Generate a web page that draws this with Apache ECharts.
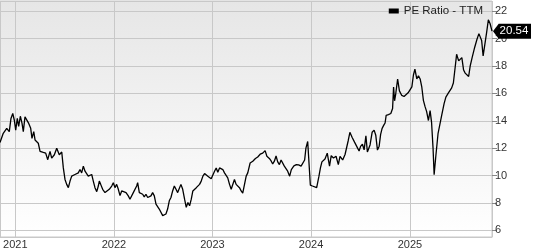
<!DOCTYPE html>
<html><head><meta charset="utf-8">
<script src="https://cdn.jsdelivr.net/npm/echarts@6/dist/echarts.min.js"></script>
<style>html,body{margin:0;padding:0;background:#fff}#c{width:533px;height:250px}</style>
</head><body><div id="c"></div>
<script>
// Positions in decimal years
const yearPos = [
2020.845,2020.878,2020.913,2020.939,2020.956,2020.974,2020.990,2021.004,2021.020,2021.034,
2021.051,2021.068,2021.081,2021.098,2021.116,2021.136,2021.156,2021.169,2021.187,2021.200,
2021.217,2021.233,2021.251,2021.284,2021.308,2021.329,2021.352,2021.369,2021.396,2021.420,
2021.446,2021.471,2021.487,2021.504,2021.521,2021.538,2021.555,2021.572,2021.588,2021.605,
2021.623,2021.639,2021.656,2021.673,2021.690,2021.707,2021.724,2021.740,2021.758,2021.775,
2021.791,2021.808,2021.826,2021.842,2021.852,2021.866,2021.886,2021.910,2021.927,2021.953,
2021.978,2021.994,2022.011,2022.028,2022.045,2022.062,2022.079,2022.095,2022.123,2022.146,
2022.163,2022.181,2022.197,2022.214,2022.231,2022.241,2022.258,2022.275,2022.292,2022.308,
2022.325,2022.343,2022.359,2022.376,2022.393,2022.410,2022.427,2022.444,2022.460,2022.478,
2022.495,2022.511,2022.528,2022.545,2022.562,2022.579,2022.596,2022.613,2022.630,2022.647,
2022.663,2022.680,2022.698,2022.717,2022.734,2022.751,2022.768,2022.785,2022.801,2022.819,
2022.836,2022.852,2022.869,2022.886,2022.903,2022.920,2022.937,2022.953,2022.970,2022.987,
2023.004,2023.021,2023.038,2023.054,2023.072,2023.089,2023.105,2023.122,2023.139,2023.155,
2023.173,2023.190,2023.206,2023.223,2023.240,2023.257,2023.274,2023.291,2023.307,2023.325,
2023.342,2023.358,2023.382,2023.409,2023.436,2023.459,2023.484,2023.510,2023.534,2023.552,
2023.577,2023.595,2023.611,2023.628,2023.645,2023.662,2023.679,2023.696,2023.714,2023.729,
2023.747,2023.763,2023.783,2023.800,2023.826,2023.851,2023.874,2023.899,2023.917,2023.935,
2023.948,2023.966,2023.978,2023.993,2024.014,2024.034,2024.057,2024.080,2024.095,2024.110,
2024.126,2024.141,2024.164,2024.174,2024.187,2024.204,2024.227,2024.253,2024.276,2024.293,
2024.320,2024.344,2024.361,2024.377,2024.393,2024.415,2024.440,2024.466,2024.486,2024.501,
2024.520,2024.537,2024.555,2024.570,2024.582,2024.597,2024.618,2024.638,2024.655,2024.672,
2024.689,2024.704,2024.719,2024.736,2024.749,2024.760,2024.783,2024.807,2024.825,2024.835,
2024.845,2024.857,2024.876,2024.894,2024.918,2024.941,2024.961,2024.982,2025.002,2025.020,
2025.036,2025.051,2025.070,2025.087,2025.104,2025.121,2025.137,2025.154,2025.170,2025.188,
2025.205,2025.220,2025.235,2025.246,2025.263,2025.286,2025.322,2025.347,2025.365,2025.378,
2025.391,2025.424,2025.441,2025.464,2025.474,2025.495,2025.515,2025.527,2025.545,2025.561,
2025.578,2025.596,2025.612,2025.632,2025.657,2025.680,2025.700,2025.713,2025.728,2025.743,
2025.761,2025.779,2025.796,2025.814,2025.833
];
// PE Ratio - TTM values
const peValues = [
12.41,13.09,13.45,13.21,14.17,14.53,14.04,13.32,14.17,13.59,
14.33,13.81,13.21,14.29,14.33,13.81,13.45,12.72,13.21,12.60,
12.72,12.36,11.77,11.69,11.64,11.16,11.77,11.28,11.52,12.00,
11.52,11.72,10.56,9.72,9.36,9.12,9.60,9.96,9.84,10.08,
9.96,10.20,10.44,10.20,10.69,10.32,10.44,9.96,9.84,10.08,
9.60,9.12,8.83,9.24,9.60,9.36,9.00,8.76,8.88,9.00,
9.24,9.48,9.12,9.36,9.00,8.54,8.88,8.93,8.76,8.52,
8.28,8.16,8.76,8.88,9.24,9.48,8.76,8.64,8.64,8.45,
8.64,8.40,8.28,8.52,8.76,8.52,7.92,7.92,7.56,7.68,
7.08,7.08,7.20,7.56,8.16,8.40,8.88,9.24,9.00,8.76,
8.64,9.36,9.00,8.28,7.68,8.04,7.80,8.28,8.88,8.76,
9.12,9.24,9.36,9.60,9.96,10.15,10.08,9.96,9.84,9.77,
9.72,10.32,10.56,10.25,10.56,10.63,10.44,10.20,10.08,9.84,
9.36,9.00,9.12,9.72,9.36,9.24,9.12,8.88,8.72,8.76,
9.96,10.20,10.92,11.05,11.25,11.36,11.56,11.64,11.82,11.41,
11.25,11.07,10.85,11.05,11.43,11.00,10.80,11.14,11.00,10.69,
10.56,10.32,9.96,10.44,10.71,10.80,10.78,10.69,10.56,11.14,
12.00,12.49,12.36,9.30,9.24,9.17,9.12,9.96,10.56,11.00,
11.14,11.21,11.64,11.77,10.69,11.46,11.28,11.41,10.80,11.41,
11.14,11.54,11.68,12.58,13.16,12.80,12.44,12.08,11.79,12.13,
12.29,11.88,12.90,11.72,11.68,12.24,13.16,13.32,12.94,11.86,
12.15,13.01,13.45,13.68,13.84,14.40,14.45,14.53,14.89,16.47,
15.46,15.97,17.05,16.18,15.85,15.77,15.90,16.04,16.11,16.47,
17.34,17.77,17.05,17.29,17.05,16.45,15.49,15.03,14.67,14.02,
14.74,13.88,12.00,10.06,11.41,13.09,14.38,15.25,15.73,15.72,
16.04,16.40,16.76,18.20,18.85,18.37,18.42,18.61,17.70,17.48,
17.53,17.23,18.01,18.63,19.35,19.93,20.36,20.29,19.86,18.74,
18.81,20.47,21.37,21.08,20.54
];
const seriesName = 'PE Ratio - TTM';
const yMin = 5.52, yMax = 22.74;

function toTs(dy) {
  const yr = Math.floor(dy);
  const a = Date.UTC(yr, 0, 1), b = Date.UTC(yr + 1, 0, 1);
  return a + (dy - yr) * (b - a);
}
const n = Math.min(yearPos.length, peValues.length);
const data = [];
for (let i = 0; i < n; i++) data.push([toTs(yearPos[i]), peValues[i]]);
const last = data[data.length - 1];

const FONT = 'Arial, "Liberation Sans", sans-serif';
const chart = echarts.init(document.getElementById('c'), null, {renderer: 'canvas'});
chart.setOption({
  animation: false,
  textStyle: {fontFamily: FONT},
  grid: {
    left: 0, right: 41, top: 1, bottom: 10, show: true,
    borderColor: '#c8c8c8', borderWidth: 1,
    backgroundColor: new echarts.graphic.LinearGradient(0, 0, 0, 1, [
      {offset: 0, color: '#e6e6e6'}, {offset: 1, color: '#ffffff'}
    ])
  },
  legend: {
    data: [seriesName], right: 50, top: 5, padding: 0, icon: 'rect',
    itemWidth: 10, itemHeight: 5,
    textStyle: {fontSize: 11.5, color: '#222', fontFamily: FONT}
  },
  xAxis: {
    type: 'time', min: data[0][0], max: last[0],
    splitNumber: 5,
    minInterval: 365 * 86400000,
    axisLine: {show: true, lineStyle: {color: '#c8c8c8'}},
    axisTick: {show: false},
    splitLine: {show: true, lineStyle: {color: '#c8c8c8', width: 1}},
    axisLabel: {fontSize: 11, color: '#333', margin: 2, formatter: '{yyyy}', fontFamily: FONT,
      showMinLabel: false, showMaxLabel: false}
  },
  yAxis: {
    type: 'value', position: 'right', min: yMin, max: yMax, splitNumber: 8,
    axisLine: {show: false},
    axisTick: {show: true, length: 5, lineStyle: {color: '#888'}},
    splitLine: {show: true, lineStyle: {color: '#c8c8c8', width: 1}},
    axisLabel: {fontSize: 11, color: '#333', margin: 3, fontFamily: FONT,
      showMinLabel: false, showMaxLabel: false}
  },
  series: [{
    name: seriesName, type: 'line', data: data, showSymbol: false,
    color: '#000',
    lineStyle: {color: '#000', width: 1.3},
    markPoint: {
      symbol: 'path://M0,8 L6,0 L40,0 L40,16 L6,16 Z',
      symbolSize: [38, 15], symbolOffset: [20, 0],
      itemStyle: {color: '#000'},
      label: {show: true, color: '#fff', fontSize: 11.5, fontFamily: FONT, offset: [2, 0],
        formatter: p => p.value.toFixed(2)},
      data: [{coord: last, value: last[1]}]
    }
  }]
});
</script></body></html>
